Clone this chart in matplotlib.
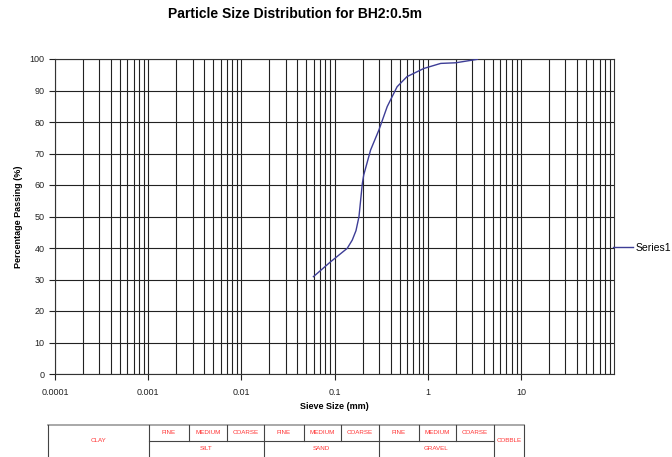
import matplotlib
matplotlib.use("Agg")
import matplotlib.pyplot as plt
from matplotlib.ticker import FixedLocator, NullFormatter

plt.rcParams['font.family'] = ['Liberation Sans', 'DejaVu Sans']

# sieve size (mm) vs percentage passing
sieve_mm = [0.0594, 0.0906, 0.137, 0.155, 0.170, 0.183, 0.199, 0.206, 0.244,
            0.30, 0.368, 0.47, 0.60, 0.91, 1.38, 2.0, 3.42]
passing = [30.9, 35.6, 39.9, 42.5, 45.5, 49.9, 60.5, 63.2, 71.1,
           77.5, 84.9, 91.2, 94.4, 97.0, 98.6, 98.8, 99.9]

x_ticks = [0.0001, 0.001, 0.01, 0.1, 1, 10]
x_tick_labels = ["0.0001", "0.001", "0.01", "0.1", "1", "10"]
y_ticks = list(range(0, 101, 10))

table_edges = [48, 149, 189, 227, 264, 304, 341, 379, 419, 456, 494, 524]
sub_labels = ["FINE", "MEDIUM", "COARSE"] * 3
main_labels = ["SILT", "SAND", "GRAVEL"]

W, H = 672, 457
fig = plt.figure(figsize=(W / 100, H / 100), dpi=100)

ax = fig.add_axes([55 / W, (H - 374) / H, (614 - 55) / W, (374 - 59) / H])
ax.set_xscale("log")
ax.set_xlim(0.0001, 100)
ax.set_ylim(0, 100)

ax.plot(sieve_mm, passing, color="#3d3d96", lw=1.0, label="Series1", zorder=3)

minor = [m * 10.0 ** e for e in range(-4, 2) for m in range(2, 10)]
ax.xaxis.set_major_locator(FixedLocator(x_ticks))
ax.xaxis.set_minor_locator(FixedLocator(minor))
ax.xaxis.set_minor_formatter(NullFormatter())
ax.set_xticklabels(x_tick_labels)
ax.set_yticks(y_ticks)

ax.grid(True, which="both", axis="x", color="#222222", lw=0.8)
ax.grid(True, which="major", axis="y", color="#222222", lw=0.8)
ax.tick_params(axis="both", which="major", labelsize=6.5, direction="out",
               length=4, width=0.8, colors="#222222")
ax.tick_params(axis="x", which="minor", length=0)
ax.tick_params(axis="x", pad=6)
for s in ax.spines.values():
    s.set_color("#333333")
    s.set_linewidth(0.8)

ax.set_xlabel("Sieve Size (mm)", fontsize=6.5, fontweight="bold", labelpad=4)
ax.set_ylabel("Percentage Passing (%)", fontsize=6.5, fontweight="bold", labelpad=5)

fig.text(295 / W, 1 - 14 / H, "Particle Size Distribution for BH2:0.5m",
         ha="center", va="center", fontsize=10, fontweight="bold")

# legend entry on the right
leg = ax.legend(loc="center left", bbox_to_anchor=(0.982, 0.4), frameon=False,
                fontsize=7.5, handlelength=1.9, handletextpad=0.25)

# soil classification table under the chart
tab = fig.add_axes([0, 0, 1, 1], facecolor="none")
tab.set_xlim(0, W)
tab.set_ylim(H, 0)
tab.axis("off")
top, mid, bot = 425, 441, 460
lc = "#444444"
tab.plot([table_edges[0], table_edges[-1]], [top, top], color="#999999", lw=1.2)
tab.plot([table_edges[1], table_edges[-2]], [mid, mid], color=lc, lw=0.8)
for i, xe in enumerate(table_edges):
    if i in (0, 1, 4, 7, 10, 11):
        tab.plot([xe, xe], [top, bot], color=lc, lw=0.8)
    else:
        tab.plot([xe, xe], [top, mid], color=lc, lw=0.8)
red = "#ff3333"
tab.text((table_edges[0] + table_edges[1]) / 2, 441, "CLAY", color=red,
         fontsize=4.5, ha="center", va="center")
tab.text((table_edges[10] + table_edges[11]) / 2, 441, "COBBLE", color=red,
         fontsize=4.5, ha="center", va="center")
for i, lab in enumerate(sub_labels):
    xc = (table_edges[i + 1] + table_edges[i + 2]) / 2
    tab.text(xc, 433, lab, color=red, fontsize=4.5, ha="center", va="center")
for i, lab in enumerate(main_labels):
    xc = (table_edges[1 + 3 * i] + table_edges[4 + 3 * i]) / 2
    tab.text(xc, 449, lab, color=red, fontsize=4.5, ha="center", va="center")

fig.savefig("out.png", dpi=100)
